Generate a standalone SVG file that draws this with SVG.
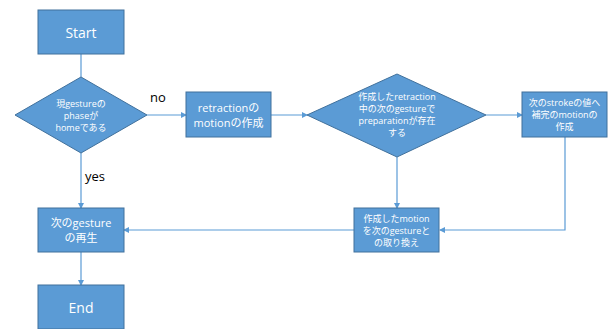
<svg xmlns="http://www.w3.org/2000/svg" width="611" height="329" viewBox="0 0 611 329">
<style>
.n{fill:#5B9BD5;stroke:#41719C;stroke-width:1}
.t{fill:#fff;font-family:"Open Sans","Noto Sans CJK JP",sans-serif;text-anchor:middle}
.c{fill:none;stroke:#5B9BD5;stroke-width:1.2}
.l{fill:#000;font-family:"Open Sans","Liberation Sans",sans-serif;font-size:13px}
</style>
<defs>
<marker id="a" markerWidth="6" markerHeight="6" refX="5" refY="3" orient="auto" markerUnits="userSpaceOnUse">
<path d="M0,0 L6,3 L0,6 z" fill="#5B9BD5"/>
</marker>
</defs>
<rect width="611" height="329" fill="#fff"/>
<g id="connectors">
<path class="c" d="M81,54 V77"/>
<path class="c" d="M147,115 H186" marker-end="url(#a)"/>
<path class="c" d="M271,115 H307" marker-end="url(#a)"/>
<path class="c" d="M486,115 H522" marker-end="url(#a)"/>
<path class="c" d="M565,137 V230 H440" marker-end="url(#a)"/>
<path class="c" d="M397,157 V208" marker-end="url(#a)"/>
<path class="c" d="M354,230 H124" marker-end="url(#a)"/>
<path class="c" d="M81,153 V208" marker-end="url(#a)"/>
<path class="c" d="M81,252 V285" marker-end="url(#a)"/>
<text class="l" x="150" y="102">no</text>
<text class="l" x="85" y="181">yes</text>
</g>
<g id="start">
<rect class="n" x="38" y="10" width="86" height="44"/>
<text class="t" x="81" y="38" font-size="14">Start</text>
</g>
<g id="decision1">
<polygon class="n" points="81,77 147,115 81,153 15,115"/>
<text class="t" font-size="9"><tspan x="81" y="107">現gestureの</tspan><tspan x="81" y="119">phaseが</tspan><tspan x="81" y="131">homeである</tspan></text>
</g>
<g id="retraction">
<rect class="n" x="186" y="92" width="85" height="45"/>
<text class="t" font-size="11"><tspan x="228.5" y="112">retractionの</tspan><tspan x="228.5" y="127">motionの作成</tspan></text>
</g>
<g id="decision2">
<polygon class="n" points="397,74 486,115 397,157 307,115"/>
<text class="t" font-size="9"><tspan x="397" y="100">作成したretraction</tspan><tspan x="397" y="112">中の次のgestureで</tspan><tspan x="397" y="124">preparationが存在</tspan><tspan x="397" y="136">する</tspan></text>
</g>
<g id="interp">
<rect class="n" x="522" y="92" width="85" height="45"/>
<text class="t" font-size="9"><tspan x="564.5" y="106">次のstrokeの値へ</tspan><tspan x="564.5" y="118">補完のmotionの</tspan><tspan x="564.5" y="130">作成</tspan></text>
</g>
<g id="replace">
<rect class="n" x="354" y="208" width="85" height="44"/>
<text class="t" font-size="9"><tspan x="396.5" y="222">作成したmotion</tspan><tspan x="396.5" y="234">を次のgestureと</tspan><tspan x="396.5" y="246">の取り換え</tspan></text>
</g>
<g id="play">
<rect class="n" x="38" y="208" width="86" height="44"/>
<text class="t" font-size="11"><tspan x="81" y="227">次のgesture</tspan><tspan x="81" y="242">の再生</tspan></text>
</g>
<g id="end">
<rect class="n" x="38" y="285" width="86" height="44"/>
<text class="t" x="81" y="313" font-size="14">End</text>
</g>
</svg>
